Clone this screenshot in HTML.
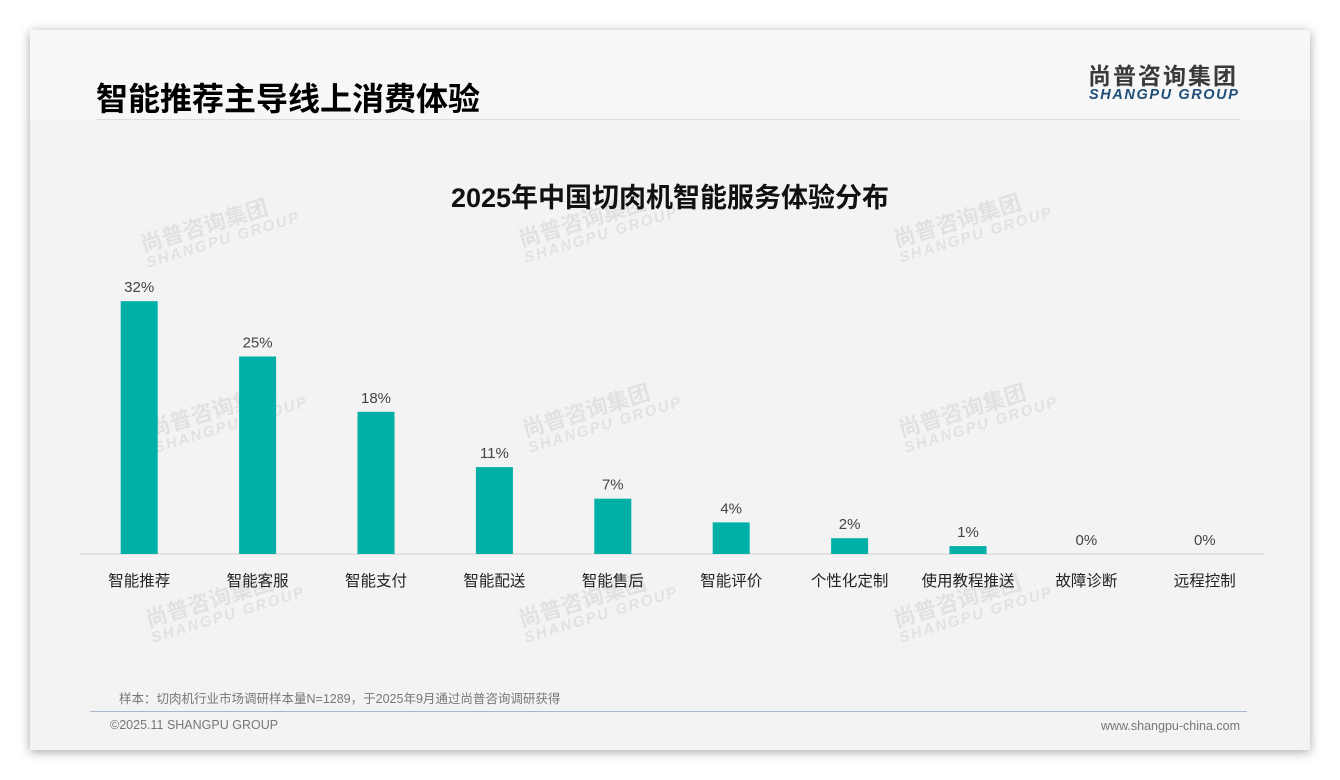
<!DOCTYPE html>
<html><head><meta charset="utf-8"><style>
body{margin:0;width:1340px;height:780px;background:#fff;position:relative;overflow:hidden;font-family:"Liberation Sans","Noto Sans CJK SC",sans-serif}
.card{position:absolute;left:30px;top:30px;width:1280px;height:720px;background:#f3f3f3;box-shadow:0 2px 10px rgba(0,0,0,.35)}
.hdr{position:absolute;left:0;top:0;width:1280px;height:90px;background:#f7f7f7}
.abs{position:absolute;white-space:nowrap}
.wm{position:absolute;color:rgba(0,0,0,.07);font-weight:bold;transform:rotate(-17deg);line-height:1.05;font-size:22px;text-align:left}
.wm span{display:block;font-size:15px;letter-spacing:2px;font-style:italic}
</style></head><body>
<div class="card">
<div class="hdr"></div>
<div class="abs" style="left:66px;top:44px;font-size:32px;font-weight:bold;color:#000">智能推荐主导线上消费体验</div>
<div class="abs" style="left:66px;top:89px;width:1144px;height:1px;background:#ddd"></div>
<div class="abs" style="left:1058px;top:35px;font-size:23px;line-height:1;font-weight:bold;color:#3a3a3a;letter-spacing:2px">尚普咨询集团</div>
<div class="abs" style="left:1059px;top:58px;font-size:14.5px;line-height:1;font-weight:bold;font-style:italic;color:#1f4e79;letter-spacing:1.6px">SHANGPU GROUP</div>
<div class="abs" style="left:0;width:1280px;text-align:center;top:146px;font-size:27px;font-weight:bold;color:#111">2025年中国切肉机智能服务体验分布</div>
<div class="abs" style="left:89px;top:658px;font-size:12.5px;color:#777">样本：切肉机行业市场调研样本量N=1289，于2025年9月通过尚普咨询调研获得</div>
<div class="abs" style="left:60px;top:681px;width:1157px;height:1px;background:#a9b8c8"></div>
<div class="abs" style="left:80px;top:688px;font-size:12.5px;color:#777">©2025.11 SHANGPU GROUP</div>
<div class="abs" style="right:70px;top:689px;font-size:12.5px;color:#777">www.shangpu-china.com</div>
</div>
<div id="wms"></div>
<svg id="chart" width="1340" height="780" style="position:absolute;left:0;top:0"></svg>
<script>
const categories=["智能推荐","智能客服","智能支付","智能配送","智能售后","智能评价","个性化定制","使用教程推送","故障诊断","远程控制"];
const values=[32,25,18,11,7,4,2,1,0,0];
const valueLabels=["32%","25%","18%","11%","7%","4%","2%","1%","0%","0%"];
const NS="http://www.w3.org/2000/svg";
const svg=document.getElementById('chart');
const x0=80,x1=1264,base=554,pxPer=7.9,step=(x1-x0)/categories.length,bw=37;
const xc=i=>x0+step*(i+0.5);
const yv=v=>base-v*pxPer;
function mk(t,a){const e=document.createElementNS(NS,t);for(const k in a)e.setAttribute(k,a[k]);svg.appendChild(e);return e;}
const ax=mk('line',{x1:x0,x2:x1,y1:base,y2:base,stroke:'#d0d0d0','stroke-width':1});


categories.forEach((c,i)=>{
  const r=mk('rect',{x:xc(i)-bw/2,y:yv(values[i]),width:bw,height:values[i]*pxPer,fill:'#00afa5'});
  
  
  const v=mk('text',{x:xc(i),y:yv(values[i])-9,'text-anchor':'middle','font-size':15,fill:'#444','font-family':'Liberation Sans, sans-serif'});
  v.textContent=valueLabels[i];
  
  
  const l=mk('text',{x:xc(i),y:586,'text-anchor':'middle','font-size':15.5,fill:'#222','font-family':'Liberation Sans, Noto Sans CJK SC, sans-serif'});
  l.textContent=c;
  
  
});
const wmPos=[[140,210],[518,205],[893,205],[148,395],[522,395],[898,395],[145,585],[518,585],[893,585]];
const wc=document.getElementById('wms');
wmPos.forEach((p,i)=>{
  const d=document.createElement('div');
  d.className='wm';
  d.style.left=p[0]+'px';d.style.top=p[1]+'px';
  d.innerHTML='尚普咨询集团<span>SHANGPU GROUP</span>';
  
  
  wc.appendChild(d);
});
</script>
</body></html>
